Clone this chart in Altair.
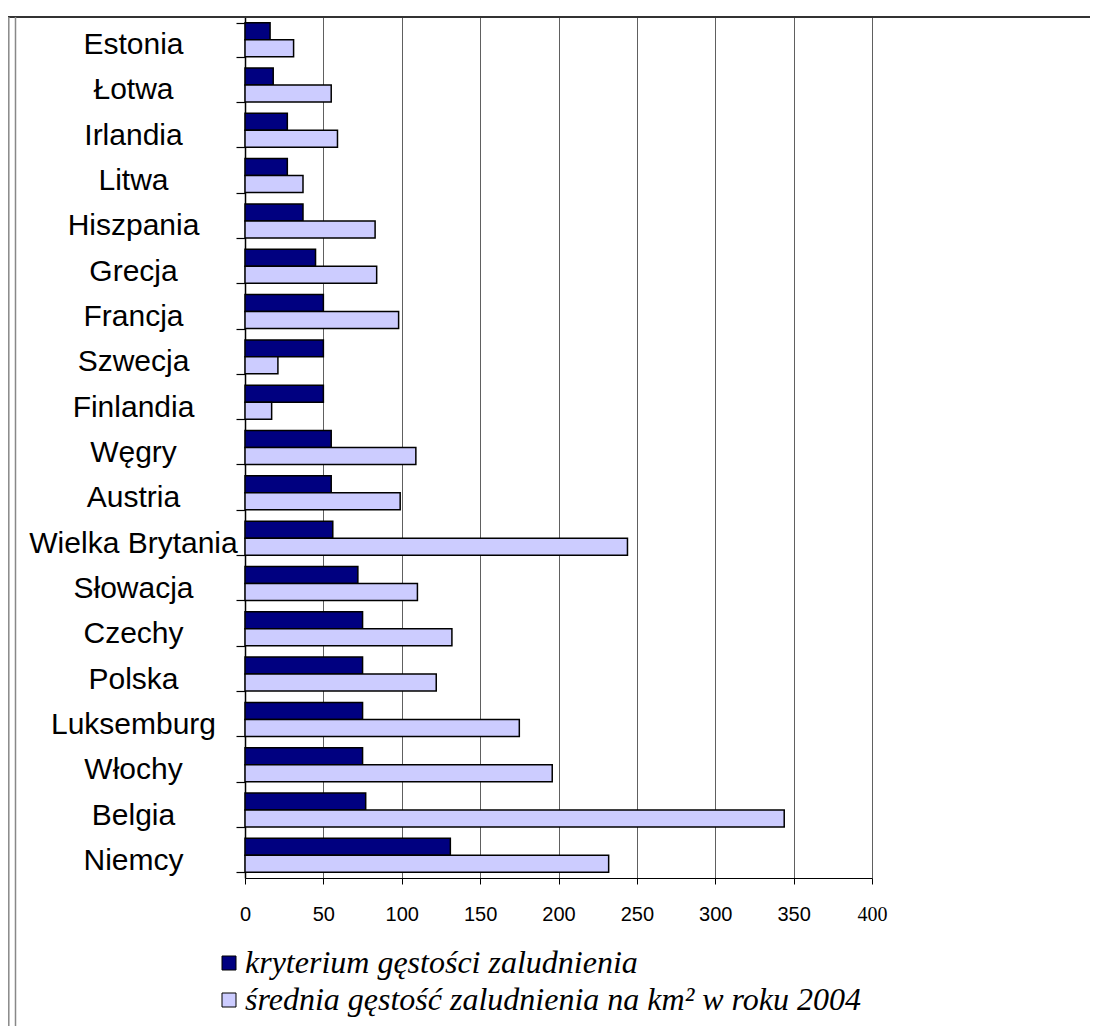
import altair as alt
import pandas as pd

countries = ["Estonia", "Łotwa", "Irlandia", "Litwa", "Hiszpania", "Grecja", "Francja",
             "Szwecja", "Finlandia", "Węgry", "Austria", "Wielka Brytania", "Słowacja",
             "Czechy", "Polska", "Luksemburg", "Włochy", "Belgia", "Niemcy"]
kryterium = [16, 18, 27, 27, 37, 45, 50, 50, 50, 55, 55, 56, 72, 75, 75, 75, 75, 77, 131]
srednia = [31, 55, 59, 37, 83, 84, 98, 21, 17, 109, 99, 244, 110, 132, 122, 175, 196, 344, 232]
series = ["kryterium gęstości zaludnienia", "średnia gęstość zaludnienia na km² w roku 2004"]
colors = ["#000080", "#CCCCFF"]
x_ticks = [0, 50, 100, 150, 200, 250, 300, 350, 400]

df = pd.DataFrame({
    "kraj": countries * 2,
    "seria": [series[0]] * len(countries) + [series[1]] * len(countries),
    "wartosc": kryterium + srednia,
})

W, H = 627, 861
PAD_L, PAD_T, PAD_R, PAD_B = 237, 9, 218, 148

x_label_font = {"condition": {"test": "datum.label == '400'", "value": "Liberation Serif"},
                "value": "Liberation Sans"}

bars = alt.Chart(df).mark_bar(stroke="black", strokeWidth=1.5).encode(
    y=alt.Y("kraj:N", sort=countries,
            scale=alt.Scale(paddingInner=0.25, paddingOuter=0.125),
            axis=alt.Axis(title=None, tickBand="extent", tickSize=9, tickColor="black",
                          tickWidth=1.2, domainColor="black", domainWidth=1.5,
                          labelFont="Liberation Sans", labelFontSize=30, labelColor="black",
                          labelAlign="center", labelPadding=103, labelLimit=400,
                          labelOffset=5, grid=False)),
    yOffset=alt.YOffset("seria:N", sort=series),
    x=alt.X("wartosc:Q", scale=alt.Scale(domain=[0, 400], nice=False),
            axis=alt.Axis(title=None, values=x_ticks, grid=True, gridColor="#606060",
                          gridWidth=1, tickSize=6, tickColor="black", domainColor="black",
                          domainWidth=1.2, labelFont=x_label_font, labelFontSize=20,
                          labelColor="black", labelPadding=20, labelFlush=False)),
    color=alt.Color("seria:N", sort=series,
                    scale=alt.Scale(domain=series, range=colors),
                    legend=alt.Legend(title=None, orient="none", legendX=-41, legendY=930,
                                      symbolType="square", symbolSize=196,
                                      symbolStrokeColor="black", symbolStrokeWidth=1,
                                      symbolOffset=9,
                                      labelFont="Liberation Serif", labelFontStyle="italic",
                                      labelFontSize=32, labelColor="black", labelLimit=900,
                                      labelOffset=0, rowPadding=5, padding=0)),
)

one = pd.DataFrame({"a": [0]})
top_line = alt.Chart(one).mark_rule(color="#333333", strokeWidth=2).encode(
    x=alt.value(-PAD_L), x2=alt.value(W + PAD_R), y=alt.value(0))
left1 = alt.Chart(one).mark_rule(color="#888888", strokeWidth=1.5).encode(
    x=alt.value(-PAD_L + 0.8), y=alt.value(0), y2=alt.value(H + PAD_B))
left2 = alt.Chart(one).mark_rule(color="#888888", strokeWidth=1.5).encode(
    x=alt.value(-PAD_L + 7.5), y=alt.value(0), y2=alt.value(H + PAD_B))

chart = alt.layer(bars, top_line, left1, left2).properties(
    width=W, height=H,
    padding={"left": PAD_L, "top": PAD_T, "right": PAD_R, "bottom": PAD_B},
    autosize=alt.AutoSizeParams(type="none"),
    background="white",
).configure_view(stroke=None)

chart.save("out.html", embed_options={"renderer": "svg", "actions": False})
